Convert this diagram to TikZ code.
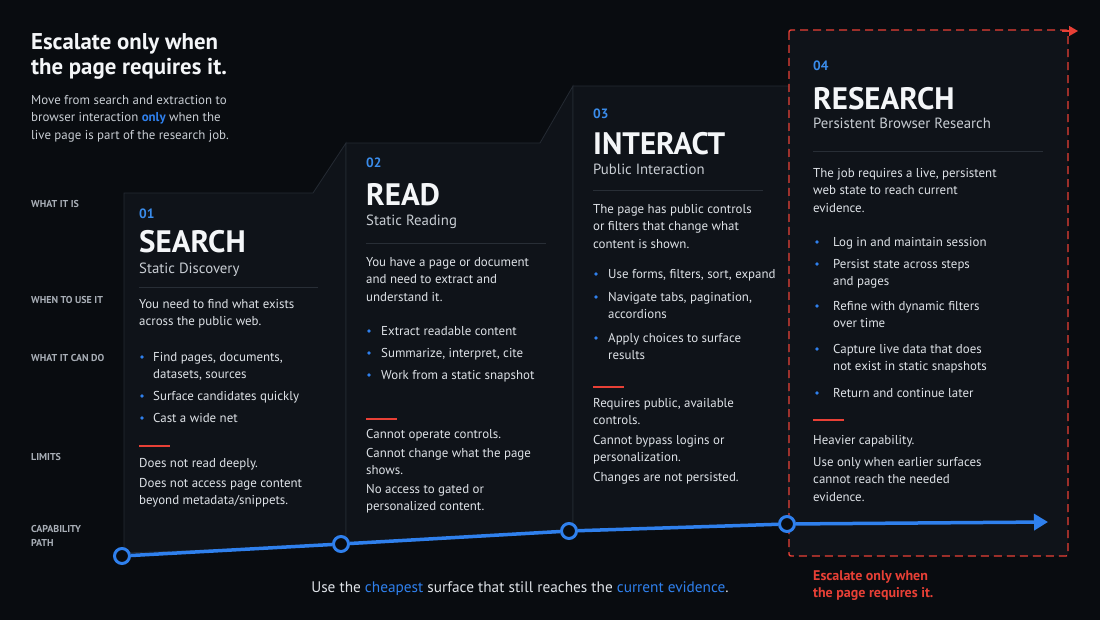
\documentclass[tikz,border=0pt]{standalone}
\usepackage{fontspec}
\setmainfont{PT Sans}
\usetikzlibrary{arrows.meta,positioning}
\definecolor{pagebg}{RGB}{9,12,16}
\definecolor{cardfill}{RGB}{15,19,25}
\definecolor{cardline}{RGB}{36,42,50}
\definecolor{sepgrey}{RGB}{40,46,54}
\definecolor{accblue}{RGB}{47,128,237}
\definecolor{numblue}{RGB}{58,140,235}
\definecolor{escred}{RGB}{232,64,54}
\definecolor{headwhite}{RGB}{244,246,248}
\definecolor{bodywhite}{RGB}{222,226,231}
\definecolor{subgrey}{RGB}{200,205,211}
\definecolor{lblgrey}{RGB}{168,174,182}
\newcommand\fsz[2]{\fontsize{#1}{#2}\selectfont}

\begin{document}
\begin{tikzpicture}[x=1pt,y=-1pt,
    card/.style={fill=cardfill,draw=cardline,line width=0.8pt},
    sepline/.style={draw=sepgrey,line width=0.8pt},
    redtick/.style={draw=escred,line width=1.8pt},
    lbl/.style={anchor=base west,inner sep=0pt,font=\fsz{10}{14}\bfseries,text=lblgrey,align=left},
    numtxt/.style={anchor=base west,inner sep=0pt,font=\fsz{13.5}{15}\bfseries,text=numblue},
    headtxt/.style={anchor=base west,inner sep=0pt,font=\fsz{31}{33}\bfseries,text=headwhite},
    subtxt/.style={anchor=base west,inner sep=0pt,font=\fsz{14.8}{16},text=subgrey},
    bodytxt/.style={anchor=north west,inner sep=0pt,font=\fsz{12.9}{17.5},text=bodywhite,align=left},
    dot/.style={circle,fill=accblue,inner sep=0pt,minimum size=3.6pt},
    stop/.style={circle,draw=accblue,line width=3pt,fill=pagebg,inner sep=0pt,minimum size=15pt},
    pathln/.style={draw=accblue,line width=3.5pt}]
  \fill[pagebg] (0,0) rectangle (1100,620);

  % heading
  \node[anchor=north west,inner sep=0pt,font=\fsz{22.8}{25}\bfseries,text=headwhite,align=left]
    (title) at (31,33) {Escalate only when\\the page requires it.};
  \node[bodytxt,text=subgrey] (intro) at (31,95)
    {Move from search and extraction to\\browser interaction \textcolor{accblue}{\bfseries only} when the\\live page is part of the research job.};

  % row labels
  \node[lbl] (l-is) at (31,208) {WHAT IT IS};
  \node[lbl] (l-when) at (31,304) {WHEN TO USE IT};
  \node[lbl] (l-can) at (31,361) {WHAT IT CAN DO};
  \node[lbl] (l-lim) at (31,460) {LIMITS};
  \node[lbl,anchor=north west] (l-path) at (31,525) {CAPABILITY\\PATH};

  % stepped cards
  \draw[card] (124,553) -- (124,193) -- (313,193) -- (346,143) -- (346,545) -- cycle;
  \draw[card] (346,545) -- (346,143) -- (540,143) -- (573,86) -- (573,532) -- cycle;
  \draw[card] (573,532) -- (573,86) -- (789,86) -- (789,525) -- cycle;
  \fill[cardfill] (789,30) rectangle (1068,556);

  % 01 search
  \node[numtxt] (n1) at (139,219) {01};
  \node[headtxt] (h1) at (139,253) {SEARCH};
  \node[subtxt] (s1) at (139,273) {Static Discovery};
  \draw[sepline] (139,287) -- (318,287);
  \node[bodytxt] (d1) at (139,299) {You need to find what exists\\across the public web.};
  \node[dot] (b1a-d) at (142,357) {};
  \node[bodytxt] (b1a) at (153,352) {Find pages, documents,\\datasets, sources};
  \node[dot] (b1b-d) at (142,396) {};
  \node[bodytxt] (b1b) at (153,391) {Surface candidates quickly};
  \node[dot] (b1c-d) at (142,418) {};
  \node[bodytxt] (b1c) at (153,413) {Cast a wide net};
  \draw[redtick] (139,446) -- (170,446);
  \node[bodytxt] (m1a) at (139,458) {Does not read deeply.};
  \node[bodytxt] (m1b) at (139,478) {Does not access page content\\beyond metadata/snippets.};

  % 02 read
  \node[numtxt] (n2) at (366,168) {02};
  \node[headtxt] (h2) at (366,206) {READ};
  \node[subtxt] (s2) at (366,226) {Static Reading};
  \draw[sepline] (366,243) -- (546,243);
  \node[bodytxt] (d2) at (366,257) {You have a page or document\\and need to extract and\\understand it.};
  \node[dot] (b2a-d) at (369,331) {};
  \node[bodytxt] (b2a) at (381,326) {Extract readable content};
  \node[dot] (b2b-d) at (369,353) {};
  \node[bodytxt] (b2b) at (381,348) {Summarize, interpret, cite};
  \node[dot] (b2c-d) at (369,375) {};
  \node[bodytxt] (b2c) at (381,370) {Work from a static snapshot};
  \draw[redtick] (366,419) -- (397,419);
  \node[bodytxt] (m2a) at (366,429) {Cannot operate controls.};
  \node[bodytxt] (m2b) at (366,448) {Cannot change what the page\\shows.};
  \node[bodytxt] (m2c) at (366,484) {No access to gated or\\personalized content.};

  % 03 interact
  \node[numtxt] (n3) at (593,119) {03};
  \node[headtxt] (h3) at (593,155) {INTERACT};
  \node[subtxt] (s3) at (593,175) {Public Interaction};
  \draw[sepline] (593,190) -- (763,190);
  \node[bodytxt] (d3) at (593,204) {The page has public controls\\or filters that change what\\content is shown.};
  \node[dot] (b3a-d) at (596,274) {};
  \node[bodytxt] (b3a) at (608,269) {Use forms, filters, sort, expand};
  \node[dot] (b3b-d) at (596,297) {};
  \node[bodytxt] (b3b) at (608,292) {Navigate tabs, pagination,\\accordions};
  \node[dot] (b3c-d) at (596,338) {};
  \node[bodytxt] (b3c) at (608,333) {Apply choices to surface\\results};
  \draw[redtick] (593,387) -- (624,387);
  \node[bodytxt] (m3a) at (593,398) {Requires public, available\\controls.};
  \node[bodytxt] (m3b) at (593,435) {Cannot bypass logins or\\personalization.};
  \node[bodytxt] (m3c) at (593,472) {Changes are not persisted.};

  % 04 research
  \node[numtxt] (n4) at (813,71) {04};
  \node[headtxt] (h4) at (813,110) {RESEARCH};
  \node[subtxt] (s4) at (813,129) {Persistent Browser Research};
  \draw[sepline] (813,151) -- (1043,151);
  \node[bodytxt] (d4) at (813,168) {The job requires a live, persistent\\web state to reach current\\evidence.};
  \node[dot] (b4a-d) at (817,242) {};
  \node[bodytxt] (b4a) at (833,237) {Log in and maintain session};
  \node[dot] (b4b-d) at (817,264) {};
  \node[bodytxt] (b4b) at (833,259) {Persist state across steps\\and pages};
  \node[dot] (b4c-d) at (817,306) {};
  \node[bodytxt] (b4c) at (833,301) {Refine with dynamic filters\\over time};
  \node[dot] (b4d-d) at (817,349) {};
  \node[bodytxt] (b4d) at (833,344) {Capture live data that does\\not exist in static snapshots};
  \node[dot] (b4e-d) at (817,393) {};
  \node[bodytxt] (b4e) at (833,388) {Return and continue later};
  \draw[redtick] (813,420) -- (844,420);
  \node[bodytxt] (m4a) at (813,435) {Heavier capability.};
  \node[bodytxt] (m4b) at (813,457) {Use only when earlier surfaces\\cannot reach the needed\\evidence.};

  % escalation frame
  \draw[escred,line width=1.4pt,dash pattern=on 8pt off 5pt,rounded corners=2pt] (789,30) rectangle (1068,556);
  \coordinate (esc-a) at (1062,31);
  \coordinate (esc-b) at (1078,31);
  \draw[escred,line width=1.4pt,-{Triangle[length=9pt,width=10pt]}] (esc-a) -- (esc-b);

  % capability path
  \node[stop] (p1) at (122,556) {};
  \node[stop] (p2) at (341,544) {};
  \node[stop] (p3) at (569,531) {};
  \node[stop] (p4) at (787,524) {};
  \coordinate (pend) at (1048,522);
  \draw[pathln] (p1) -- (p2);
  \draw[pathln] (p2) -- (p3);
  \draw[pathln] (p3) -- (p4);
  \draw[pathln,-{Triangle[length=14pt,width=16pt]}] (p4) -- (pend);

  % footer
  \node[anchor=base,inner sep=0pt,font=\fsz{15.3}{17},text=bodywhite] (motto) at (520,592)
    {Use the \textcolor{accblue}{cheapest} surface that still reaches the \textcolor{accblue}{current evidence}.};
  \node[anchor=north west,inner sep=0pt,font=\fsz{14}{17}\bfseries,text=escred,align=left]
    (esc) at (813,570) {Escalate only when\\the page requires it.};
\end{tikzpicture}
\end{document}
